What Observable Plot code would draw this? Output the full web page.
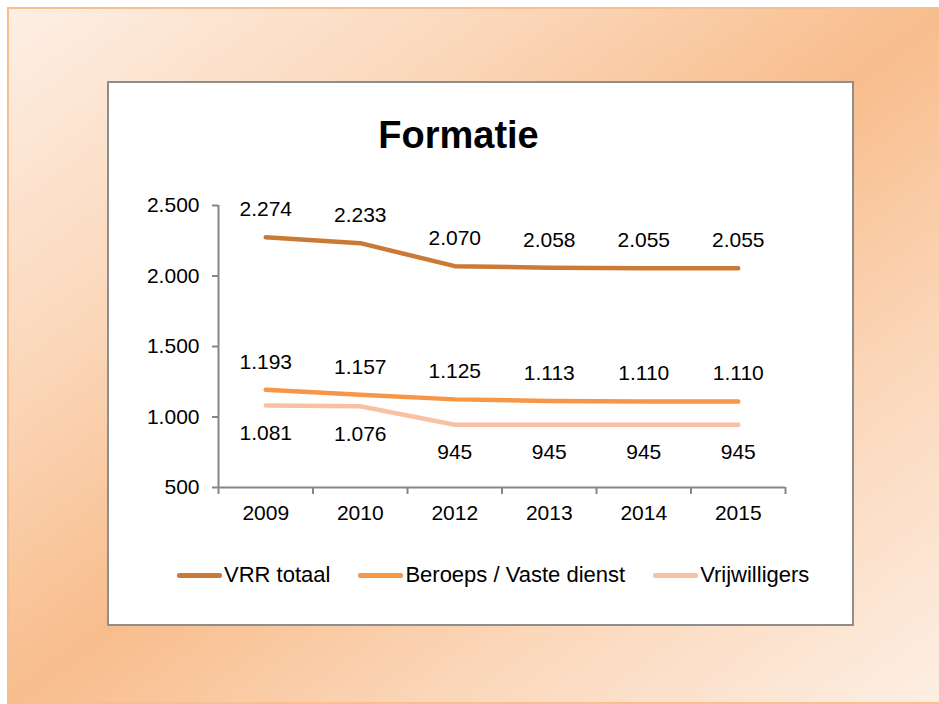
<!DOCTYPE html>
<html>
<head>
<meta charset="utf-8">
<script src="https://cdn.jsdelivr.net/npm/d3@7"></script>
<script src="https://cdn.jsdelivr.net/npm/@observablehq/plot@0.6"></script>
<style>
  html, body { margin: 0; padding: 0; background: #fff; }
  body { width: 939px; height: 704px; position: relative; overflow: hidden; font-family: "Liberation Sans", Arial, sans-serif; }
  #bg { position: absolute; left: 7px; top: 7px; width: 940px; height: 693px; border: 2px solid #F8BF90;
        background: linear-gradient(to bottom right, #FDEFE4 0%, #FBD6B8 28%, #F8BD8C 50%, #FBD6B8 72%, #FDEFE4 100%); }
  #panel { position: absolute; left: 107px; top: 81px; width: 743px; height: 541px; border: 2px solid #8E8E8E; background: #fff; }
  #title { position: absolute; left: 0; top: 33px; width: 699px; text-align: center; font-weight: bold; font-size: 38px; line-height: 38px; color: #000; }
  #chart { position: absolute; left: 0; top: 0; }
  #legend { position: absolute; left: 68px; top: 481px; height: 22px; display: flex; align-items: center; gap: 28px; font-size: 22px; line-height: 22px; color: #000; }
  .item { display: flex; align-items: center; }
  .sw { width: 45px; height: 5px; border-radius: 2px; margin-right: 2px; }
</style>
</head>
<body>
<div id="bg"></div>
<div id="panel">
  <div id="title">Formatie</div>
  <div id="chart"></div>
  <div id="legend"></div>
</div>
<script>
const years = ["2009", "2010", "2012", "2013", "2014", "2015"];
const vrrTotaal = [2274, 2233, 2070, 2058, 2055, 2055];
const beroeps = [1193, 1157, 1125, 1113, 1110, 1110];
const vrijwilligers = [1081, 1076, 945, 945, 945, 945];
const yTicks = [500, 1000, 1500, 2000, 2500];
const seriesNames = ["VRR totaal", "Beroeps / Vaste dienst", "Vrijwilligers"];
const seriesColors = ["#CB7A35", "#F79646", "#F9C0A2"];

const nl = d3.formatLocale({decimal: ",", thousands: ".", grouping: [3], currency: ["€", ""]});
const fmt = nl.format(",d");

const rows = (vals) => vals.map((v, i) => ({i, v}));
const idx = d3.range(years.length);
const bounds = d3.range(years.length + 1).map(k => k - 0.5);
const axisGray = "#868686";
const font = 21;

const chart = Plot.plot({
  width: 743,
  height: 460,
  marginLeft: 109,
  marginRight: 67,
  marginTop: 122,
  marginBottom: 56,
  style: {background: "transparent", fontFamily: "'Liberation Sans', Arial, sans-serif", overflow: "visible"},
  x: {type: "linear", domain: [-0.5, years.length - 0.5], axis: null},
  y: {type: "linear", domain: [500, 2500], axis: null},
  marks: [
    Plot.axisY({ticks: yTicks, tickSize: 6, tickPadding: 13, tickFormat: fmt, fontSize: font, stroke: axisGray, strokeWidth: 2, fill: "#000", label: null}),
    Plot.axisX({ticks: bounds, tickSize: 7, tickFormat: () => "", stroke: axisGray, strokeWidth: 2, label: null}),
    Plot.ruleX([-0.5], {stroke: axisGray, strokeWidth: 2}),
    Plot.ruleY([500], {stroke: axisGray, strokeWidth: 2}),
    Plot.text(idx, {x: d => d, y: 500, text: d => years[d], dy: 26, fontSize: font, fill: "#000"}),
    Plot.lineY(rows(vrijwilligers), {x: "i", y: "v", stroke: seriesColors[2], strokeWidth: 4.5, strokeLinecap: "round", strokeLinejoin: "round"}),
    Plot.lineY(rows(beroeps), {x: "i", y: "v", stroke: seriesColors[1], strokeWidth: 4.5, strokeLinecap: "round", strokeLinejoin: "round"}),
    Plot.lineY(rows(vrrTotaal), {x: "i", y: "v", stroke: seriesColors[0], strokeWidth: 4.5, strokeLinecap: "round", strokeLinejoin: "round"}),
    Plot.text(rows(vrrTotaal), {x: "i", y: "v", text: d => fmt(d.v), dy: -28, fontSize: font, fill: "#000"}),
    Plot.text(rows(beroeps), {x: "i", y: "v", text: d => fmt(d.v), dy: -28, fontSize: font, fill: "#000"}),
    Plot.text(rows(vrijwilligers), {x: "i", y: "v", text: d => fmt(d.v), dy: 28, fontSize: font, fill: "#000"})
  ]
});
document.getElementById("chart").appendChild(chart);

const legend = document.getElementById("legend");
seriesNames.forEach((name, k) => {
  const item = document.createElement("div");
  item.className = "item";
  const sw = document.createElement("span");
  sw.className = "sw";
  sw.style.background = seriesColors[k];
  const tx = document.createElement("span");
  tx.textContent = name;
  item.appendChild(sw);
  item.appendChild(tx);
  legend.appendChild(item);
});
</script>
</body>
</html>
